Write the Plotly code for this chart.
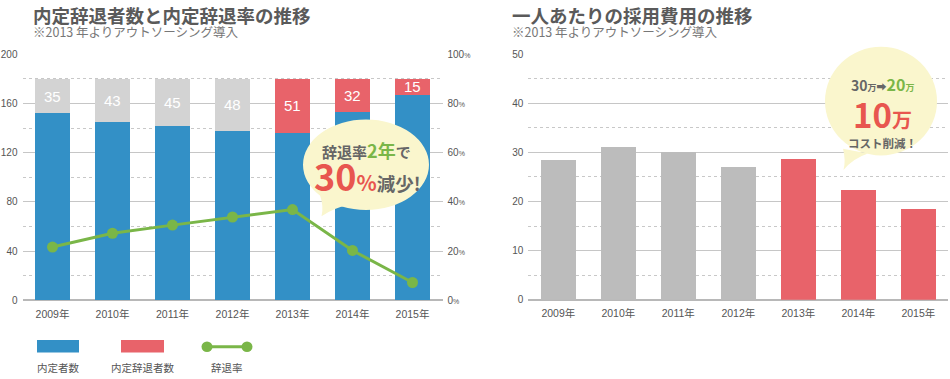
import plotly.graph_objects as go

W, H = 950, 379

# ---------------- data ----------------
years = ["2009年", "2010年", "2011年", "2012年", "2013年", "2014年", "2015年"]
hired = [152, 145, 142, 138, 136, 153, 167]              # 内定者数 (blue segment height)
declined_seg = [28, 35, 38, 42, 44, 27, 13]              # 内定辞退者数 segment height as drawn
declined_labels = ["35", "43", "45", "48", "51", "32", "15"]
decline_rate = [21.7, 27.3, 30.6, 33.9, 36.9, 20.3, 7.3]  # 辞退率 (%)
cost = [28.4, 31.2, 30.1, 27.1, 28.6, 22.3, 18.4]        # 一人あたりの採用費用 (万円)
outsourced = [False, False, False, False, True, True, True]

left_yticks = [0, 40, 80, 120, 160, 200]
right_pct_ticks = [0, 20, 40, 60, 80, 100]
cost_ticks = [0, 10, 20, 30, 40, 50]

BLUE = "#3390c6"
RED = "#e8636a"
GRAY_SEG = "#d3d3d3"
GRAY_BAR = "#bcbcbc"
GREEN = "#7ab648"
TXT = "#555555"
GRID = "#c6c6c6"
YELLOW = "#faf6cd"
NUMFONT = "Liberation Sans, Noto Sans CJK JP, sans-serif"
JPFONT = "Noto Sans CJK JP, sans-serif"


def px(x):
    return x / W


def py(y):
    return 1 - y / H


fig = go.Figure()

fig.add_trace(go.Bar(
    x=years, y=hired, marker=dict(color=BLUE, line=dict(width=0)),
    xaxis="x", yaxis="y", name="内定者数", hoverinfo="skip"))
fig.add_trace(go.Bar(
    x=years, y=declined_seg,
    marker=dict(color=[RED if o else GRAY_SEG for o in outsourced], line=dict(width=0)),
    xaxis="x", yaxis="y", name="内定辞退者数", hoverinfo="skip"))
fig.add_trace(go.Scatter(
    x=years, y=decline_rate, mode="lines+markers",
    line=dict(color=GREEN, width=3), marker=dict(color=GREEN, size=11),
    xaxis="x", yaxis="y2", name="辞退率", hoverinfo="skip"))
fig.add_trace(go.Bar(
    x=years, y=cost,
    marker=dict(color=[RED if o else GRAY_BAR for o in outsourced], line=dict(width=0)),
    xaxis="x2", yaxis="y3", name="採用費用", hoverinfo="skip"))

tickfont = dict(size=10, color=TXT, family=NUMFONT)
xfont = dict(size=10.5, color=TXT, family=NUMFONT)

fig.update_layout(
    width=W, height=H, margin=dict(l=0, r=0, t=0, b=0),
    paper_bgcolor="white", plot_bgcolor="white",
    showlegend=False, barmode="stack", bargap=25 / 60,
    xaxis=dict(domain=[px(22.5), px(442.5)], type="category", showgrid=False,
               showline=False, ticks="", tickfont=xfont, ticklabelstandoff=6,
               anchor="y", fixedrange=True),
    yaxis=dict(domain=[py(304.3), py(50.7)], range=[0, 200], tickvals=left_yticks,
               showgrid=True, gridcolor=GRID, gridwidth=1, zeroline=True,
               zerolinecolor="#b8b8b8", zerolinewidth=1.5,
               tickfont=tickfont, ticks="", ticklabelstandoff=4,
               minor=dict(dtick=20, showgrid=True, gridcolor="#c8c8c8",
                          griddash="dot", gridwidth=1),
               anchor="x", fixedrange=True),
    yaxis2=dict(overlaying="y", side="right", range=[0, 100], tickvals=right_pct_ticks,
                ticktext=[f"{v}<span style='font-size:7px'>%</span>" for v in right_pct_ticks],
                showgrid=False, zeroline=False, tickfont=tickfont, ticks="",
                ticklabelstandoff=4, anchor="x", fixedrange=True),
    xaxis2=dict(domain=[px(528.3), px(948.3)], type="category", showgrid=False,
                showline=False, ticks="", tickfont=xfont, ticklabelstandoff=6,
                anchor="y3", fixedrange=True),
    yaxis3=dict(domain=[py(303.5), py(50.7)], range=[0, 50], tickvals=cost_ticks,
                showgrid=True, gridcolor=GRID, gridwidth=1, zeroline=True,
                zerolinecolor="#b8b8b8", zerolinewidth=1.5,
                tickfont=tickfont, ticks="", ticklabelstandoff=4,
                minor=dict(dtick=5, showgrid=True, gridcolor="#c8c8c8",
                           griddash="dot", gridwidth=1),
                anchor="x2", fixedrange=True),
)

shapes = []
annotations = []

# ---- labels of the top segments (placed in data coordinates) ----
for yr, h, s, lab in zip(years, hired, declined_seg, declined_labels):
    annotations.append(dict(xref="x", yref="y", x=yr, y=h + s / 2, showarrow=False,
                            xanchor="center", yanchor="middle", text=lab,
                            font=dict(size=15, color="white", family=NUMFONT)))

# ---- titles ----
for x0, title in [(31, "内定辞退者数と内定辞退率の推移"), (510, "一人あたりの採用費用の推移")]:
    annotations.append(dict(xref="paper", yref="paper", x=px(x0), y=py(10), xanchor="left",
                            yanchor="middle", showarrow=False,
                            text=f"<b>{title}</b>",
                            font=dict(size=18.5, color="#5a5a5a", family=JPFONT)))
    annotations.append(dict(xref="paper", yref="paper", x=px(x0), y=py(27), xanchor="left",
                            yanchor="middle", showarrow=False,
                            text="※2013 年よりアウトソーシング導入",
                            font=dict(size=12.5, color="#777777", family=JPFONT)))

# ---- left speech bubble ----
shapes.append(dict(type="circle", xref="paper", yref="paper", layer="above",
                   x0=px(303), x1=px(429), y0=py(211), y1=py(118),
                   fillcolor=YELLOW, line=dict(width=0)))
shapes.append(dict(type="path", xref="paper", yref="paper", layer="above",
                   path=(f"M {px(320)},{py(196)} Q {px(324)},{py(208)} {px(321.5)},{py(217.5)} "
                         f"Q {px(334)},{py(209)} {px(348)},{py(206)} Z"),
                   fillcolor=YELLOW, line=dict(width=0)))
annotations.append(dict(xref="paper", yref="paper", x=px(366), y=py(149), showarrow=False,
                        xanchor="center", yanchor="middle",
                        text=("<b>辞退率<span style='color:%s;font-size:18px'>2年</span>で</b>" % GREEN),
                        font=dict(size=15, color="#666666", family=JPFONT)))
annotations.append(dict(xref="paper", yref="paper", x=px(367), y=py(175), showarrow=False,
                        xanchor="center", yanchor="middle",
                        text=("<b><span style='color:#e8564f;font-size:36px'>30</span>"
                              "<span style='color:#e8564f;font-size:21px'>%</span>減少!</b>"),
                        font=dict(size=18.5, color="#666666", family=JPFONT)))

# ---- right speech bubble ----
shapes.append(dict(type="circle", xref="paper", yref="paper", layer="above",
                   x0=px(825), x1=px(937), y0=py(155), y1=py(43),
                   fillcolor=YELLOW, line=dict(width=0)))
shapes.append(dict(type="path", xref="paper", yref="paper", layer="above",
                   path=(f"M {px(843)},{py(148)} Q {px(846)},{py(160)} {px(843.5)},{py(170)} "
                         f"Q {px(853)},{py(158)} {px(868)},{py(153)} Z"),
                   fillcolor=YELLOW, line=dict(width=0)))
annotations.append(dict(xref="paper", yref="paper", x=px(882), y=py(81.5), showarrow=False,
                        xanchor="center", yanchor="middle",
                        text=("<b>30<span style='font-size:9px'>万</span>"
                              "<span style='font-size:10px'>➡</span>"
                              "<span style='color:%s;font-size:16px'>20</span>"
                              "<span style='color:%s;font-size:9px'>万</span></b>") % (GREEN, GREEN),
                        font=dict(size=14, color="#666666", family=JPFONT)))
annotations.append(dict(xref="paper", yref="paper", x=px(882), y=py(112), showarrow=False,
                        xanchor="center", yanchor="middle",
                        text="<b><span style='font-size:33px'>10</span>万</b>",
                        font=dict(size=20, color="#e8564f", family=JPFONT)))
annotations.append(dict(xref="paper", yref="paper", x=px(882), y=py(142), showarrow=False,
                        xanchor="center", yanchor="middle",
                        text="<b>コスト削減！</b>",
                        font=dict(size=11.5, color="#666666", family=JPFONT)))

# ---- custom legend ----
shapes.append(dict(type="rect", xref="paper", yref="paper", x0=px(37), x1=px(79),
                   y0=py(358), y1=py(345), fillcolor=BLUE, line=dict(width=0)))
shapes.append(dict(type="rect", xref="paper", yref="paper", x0=px(121), x1=px(164),
                   y0=py(358), y1=py(345), fillcolor=RED, line=dict(width=0)))
shapes.append(dict(type="line", xref="paper", yref="paper", x0=px(207), x1=px(247),
                   y0=py(352), y1=py(352), line=dict(color=GREEN, width=3)))
for cx in (207, 247):
    shapes.append(dict(type="circle", xref="paper", yref="paper",
                       x0=px(cx - 5.5), x1=px(cx + 5.5), y0=py(357.5), y1=py(346.5),
                       fillcolor=GREEN, line=dict(width=0)))
for cx, lab in [(58, "内定者数"), (142.5, "内定辞退者数"), (227, "辞退率")]:
    annotations.append(dict(xref="paper", yref="paper", x=px(cx), y=py(373), showarrow=False,
                            xanchor="center", yanchor="middle", text=lab,
                            font=dict(size=10.5, color=TXT, family=JPFONT)))

fig.update_layout(shapes=shapes, annotations=annotations)

fig.write_html(
    "out.html", config={"displayModeBar": False},
    post_script=("var d=document.getElementById('{plot_id}');"
                 "d.style.position='fixed';d.style.top='0px';d.style.left='0px';"
                 "document.body.style.margin='0';document.body.style.overflow='hidden';"))
